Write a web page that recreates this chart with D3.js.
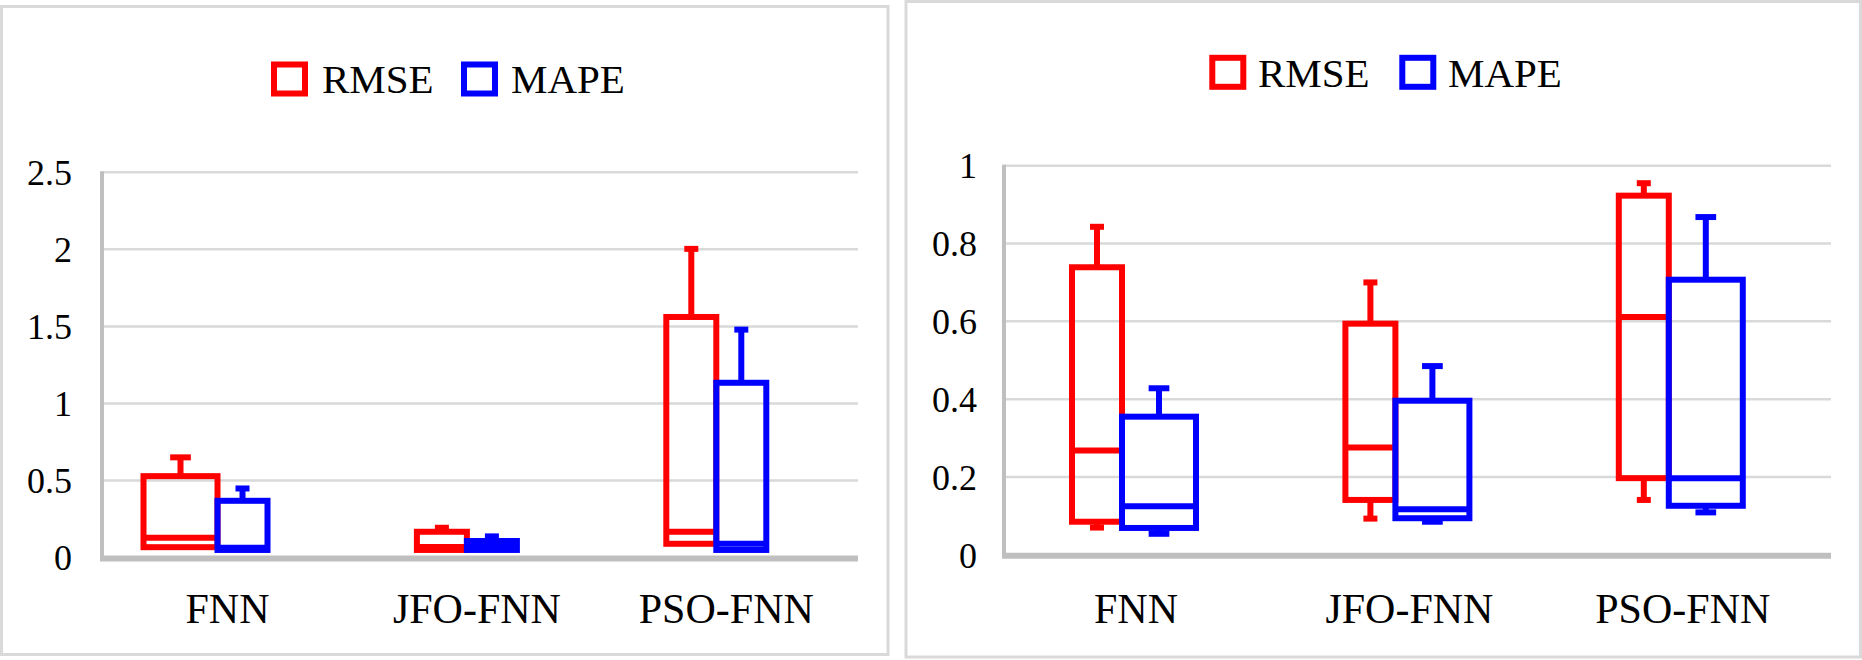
<!DOCTYPE html>
<html>
<head>
<meta charset="utf-8">
<script src="https://cdn.jsdelivr.net/npm/d3@7"></script>
<style>
  html, body { margin: 0; padding: 0; background: #fff; }
  svg { display: block; }
  text { font-family: "Liberation Serif", "Times New Roman", serif; fill: #000; }
</style>
</head>
<body>
<svg id="chart" width="1862" height="660"></svg>
<script>
// ---------- DATA ----------
const categories = ["FNN", "JFO-FNN", "PSO-FNN"];
const seriesNames = ["RMSE", "MAPE"];

// Left panel
const leftTicks = [0, 0.5, 1, 1.5, 2, 2.5];
const leftTickLabels = ["0", "0.5", "1", "1.5", "2", "2.5"];
const leftRmseMin = [0.067, 0.049, 0.089];
const leftRmseQ1  = [0.067, 0.049, 0.089];
const leftRmseMed = [0.128, 0.068, 0.167];
const leftRmseQ3  = [0.528, 0.167, 1.561];
const leftRmseMax = [0.650, 0.193, 2.003];
const leftMapeMin = [0.049, 0.049, 0.049];
const leftMapeQ1  = [0.049, 0.049, 0.049];
const leftMapeMed = [0.064, 0.075, 0.089];
const leftMapeQ3  = [0.368, 0.107, 1.134];
const leftMapeMax = [0.448, 0.137, 1.479];

// Right panel
const rightTicks = [0, 0.2, 0.4, 0.6, 0.8, 1];
const rightTickLabels = ["0", "0.2", "0.4", "0.6", "0.8", "1"];
const rightRmseMin = [0.070, 0.093, 0.141];
const rightRmseQ1  = [0.085, 0.141, 0.197];
const rightRmseMed = [0.268, 0.276, 0.611];
const rightRmseQ3  = [0.739, 0.594, 0.923];
const rightRmseMax = [0.843, 0.700, 0.955];
const rightMapeMin = [0.054, 0.085, 0.109];
const rightMapeQ1  = [0.069, 0.094, 0.126];
const rightMapeMed = [0.125, 0.117, 0.197];
const rightMapeQ3  = [0.355, 0.396, 0.707];
const rightMapeMax = [0.428, 0.485, 0.868];

// ---------- STYLE / LAYOUT ----------
const colors = { RMSE: "#ff0000", MAPE: "#0000ff" };
const gridColor = "#d9d9d9";
const axisColor = "#bfbfbf";
const borderColor = "#d9d9d9";
const STROKE = 6;

function build(minA, q1A, medA, q3A, maxA) {
  return categories.map((c, i) => ({ cat: c, min: minA[i], q1: q1A[i], med: medA[i], q3: q3A[i], max: maxA[i] }));
}

const panels = [
  {
    border: [1.5, 6.5, 886.5, 648],
    axisX: 102, plotRight: 858, yTop: 172.3, yBottom: 557.5, domainMax: 2.5,
    catRange: [92.8, 841.0], labelOffset: 10, labelY: 623,
    ticks: leftTicks, tickLabels: leftTickLabels, tickLabelX: 72,
    legend: { y: 79.5, baseline: 93.3, items: [ { sq: 271, tx: 322 }, { sq: 461, tx: 511 } ] },
    series: {
      RMSE: { data: build(leftRmseMin, leftRmseQ1, leftRmseMed, leftRmseQ3, leftRmseMax), widths: [74, 50, 50] },
      MAPE: { data: build(leftMapeMin, leftMapeQ1, leftMapeMed, leftMapeQ3, leftMapeMax), widths: [50, 50, 50] }
    }
  },
  {
    border: [906, 1.5, 954.5, 655.5],
    axisX: 1004, plotRight: 1831, yTop: 165.7, yBottom: 554.8, domainMax: 1,
    catRange: [985.3, 1805.5], labelOffset: 14, labelY: 623,
    ticks: rightTicks, tickLabels: rightTickLabels, tickLabelX: 977,
    legend: { y: 72.8, baseline: 86.7, items: [ { sq: 1209.3, tx: 1258 }, { sq: 1399.3, tx: 1448 } ] },
    series: {
      RMSE: { data: build(rightRmseMin, rightRmseQ1, rightRmseMed, rightRmseQ3, rightRmseMax), widths: [50, 50, 50] },
      MAPE: { data: build(rightMapeMin, rightMapeQ1, rightMapeMed, rightMapeQ3, rightMapeMax), widths: [74, 74, 74] }
    }
  }
];

const svg = d3.select("#chart");

panels.forEach(p => {
  const g = svg.append("g");

  // border
  g.append("rect")
    .attr("x", p.border[0]).attr("y", p.border[1])
    .attr("width", p.border[2]).attr("height", p.border[3])
    .attr("fill", "#fff").attr("stroke", borderColor).attr("stroke-width", 3);

  const y = d3.scaleLinear().domain([0, p.domainMax]).range([p.yBottom, p.yTop]);
  const x = d3.scaleBand().domain(categories).range(p.catRange).padding(0);
  const cx = c => x(c) + x.bandwidth() / 2;

  // gridlines
  g.append("g").selectAll("line")
    .data(p.ticks.filter(t => t > 0))
    .join("line")
    .attr("x1", p.axisX).attr("x2", p.plotRight)
    .attr("y1", d => y(d)).attr("y2", d => y(d))
    .attr("stroke", gridColor).attr("stroke-width", 2.5);

  // y axis line (vertical)
  g.append("line")
    .attr("x1", p.axisX).attr("x2", p.axisX)
    .attr("y1", y(p.domainMax) - 1).attr("y2", y(0) + 3)
    .attr("stroke", axisColor).attr("stroke-width", 4);

  // y tick labels via d3 axis
  const yAxis = d3.axisLeft(y).tickValues(p.ticks)
    .tickFormat((d, i) => p.tickLabels[i]).tickSize(0).tickPadding(0);
  const ya = g.append("g").attr("transform", `translate(${p.tickLabelX},0)`).call(yAxis);
  ya.select(".domain").remove();
  ya.selectAll("text")
    .attr("font-family", "Liberation Serif").attr("font-size", 36)
    .attr("fill", "#000").attr("dy", "0.34em");

  // boxes
  seriesNames.forEach(sName => {
    const s = p.series[sName];
    const col = colors[sName];
    const bg = g.append("g");
    s.data.forEach((d, i) => {
      const w = s.widths[i];
      const c0 = cx(d.cat);
      const left = sName === "RMSE" ? c0 - w : c0;
      const mid = left + w / 2;
      const capW = w * 0.28;
      // upper whisker
      bg.append("line").attr("x1", mid).attr("x2", mid)
        .attr("y1", y(d.q3)).attr("y2", y(d.max))
        .attr("stroke", col).attr("stroke-width", STROKE);
      bg.append("line").attr("x1", mid - capW / 2).attr("x2", mid + capW / 2)
        .attr("y1", y(d.max)).attr("y2", y(d.max))
        .attr("stroke", col).attr("stroke-width", STROKE);
      // lower whisker
      if (d.min < d.q1) {
        bg.append("line").attr("x1", mid).attr("x2", mid)
          .attr("y1", y(d.q1)).attr("y2", y(d.min))
          .attr("stroke", col).attr("stroke-width", STROKE);
        bg.append("line").attr("x1", mid - capW / 2).attr("x2", mid + capW / 2)
          .attr("y1", y(d.min)).attr("y2", y(d.min))
          .attr("stroke", col).attr("stroke-width", STROKE);
      }
      // box
      bg.append("rect")
        .attr("x", left).attr("y", y(d.q3))
        .attr("width", w).attr("height", y(d.q1) - y(d.q3))
        .attr("fill", "none").attr("stroke", col).attr("stroke-width", STROKE);
      // median
      bg.append("line").attr("x1", left).attr("x2", left + w)
        .attr("y1", y(d.med)).attr("y2", y(d.med))
        .attr("stroke", col).attr("stroke-width", STROKE);
    });
  });

  // x axis line (bottom)
  g.append("line")
    .attr("x1", p.axisX - 2).attr("x2", p.plotRight)
    .attr("y1", y(0) + 1).attr("y2", y(0) + 1)
    .attr("stroke", axisColor).attr("stroke-width", 6);

  // category labels
  g.append("g").selectAll("text")
    .data(categories)
    .join("text")
    .attr("x", d => cx(d) + p.labelOffset)
    .attr("y", p.labelY)
    .attr("text-anchor", "middle")
    .attr("font-size", 42)
    .text(d => d);

  // legend
  seriesNames.forEach((sName, i) => {
    const it = p.legend.items[i];
    g.append("rect")
      .attr("x", it.sq + 3).attr("y", p.legend.y - 15)
      .attr("width", 31).attr("height", 29)
      .attr("fill", "none").attr("stroke", colors[sName]).attr("stroke-width", STROKE);
    g.append("text")
      .attr("x", it.tx).attr("y", p.legend.baseline)
      .attr("font-size", 41)
      .text(sName);
  });
});
</script>
</body>
</html>
